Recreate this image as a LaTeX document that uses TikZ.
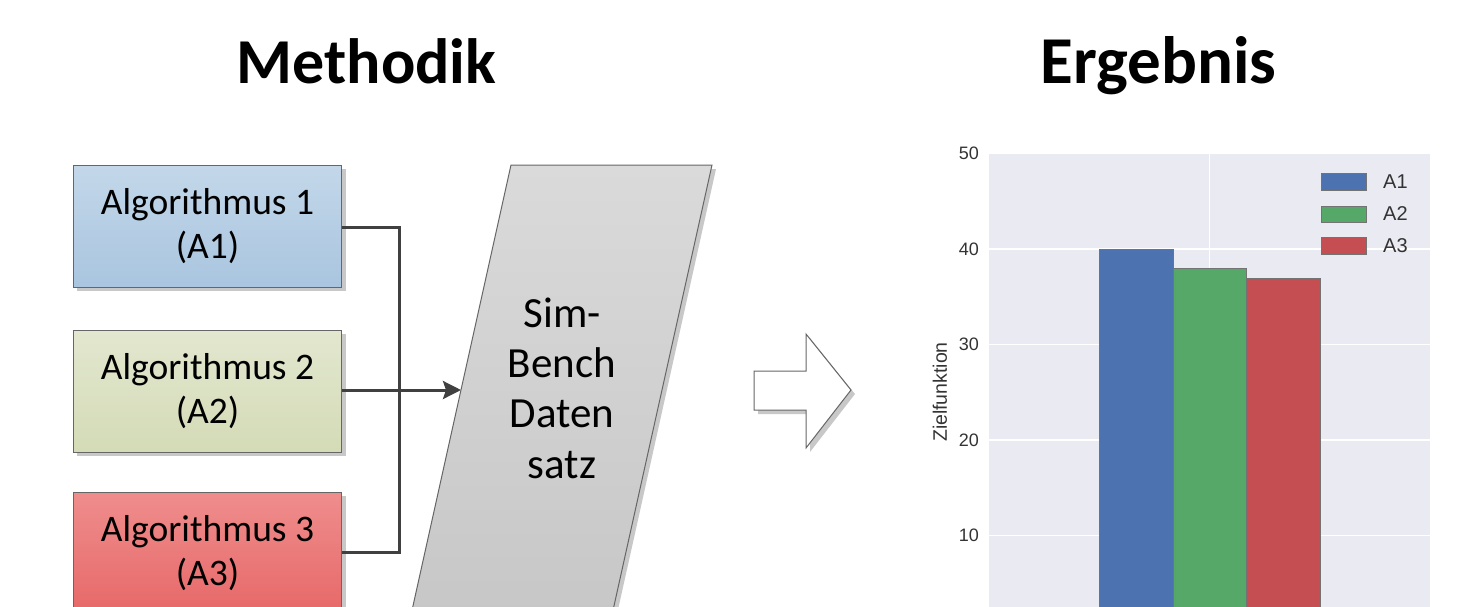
\documentclass[tikz,border=0pt]{standalone}
\usepackage{fontspec}
\setmainfont{Carlito}
\newfontfamily\chartfont{Liberation Sans}
\usetikzlibrary{arrows.meta}
\definecolor{lineC}{HTML}{404040}
\definecolor{shadowC}{HTML}{C8C8C8}
\definecolor{edgeC}{HTML}{666666}
\definecolor{aOneTop}{HTML}{C3D7E9}
\definecolor{aOneBot}{HTML}{A9C5DF}
\definecolor{aTwoTop}{HTML}{E2E7CF}
\definecolor{aTwoBot}{HTML}{D4DBB6}
\definecolor{aThrTop}{HTML}{EF8D8D}
\definecolor{aThrBot}{HTML}{E76868}
\definecolor{dsTop}{HTML}{DADADA}
\definecolor{dsBot}{HTML}{C6C6C6}
\definecolor{plotBg}{HTML}{EAEAF2}
\definecolor{barOne}{HTML}{4C72B0}
\definecolor{barTwo}{HTML}{55A868}
\definecolor{barThr}{HTML}{C44E52}
\definecolor{tickC}{HTML}{333333}
\tikzset{
  algbox/.style={draw=edgeC, line width=1pt, minimum width=268pt, minimum height=122pt,
    inner sep=0pt, align=center, font=\fontsize{37.5}{44}\selectfont, anchor=north west},
  titletext/.style={font=\bfseries\fontsize{64}{70}\selectfont, anchor=base},
  conn/.style={draw=lineC, line width=3pt},
  ticklab/.style={font=\chartfont\fontsize{18}{20}\selectfont, text=tickC, anchor=east, inner sep=0pt},
  legtext/.style={font=\chartfont\fontsize{20}{22}\selectfont, text=tickC, anchor=west, inner sep=0pt},
  bar/.style={draw=black!55, line width=0.6pt},
  gridl/.style={draw=white, line width=1.6pt}
}
\begin{document}
\begin{tikzpicture}[x=1pt,y=-1pt]
\useasboundingbox (0,0) rectangle (1470,606);
\clip (0,0) rectangle (1470,606);
% titles
\node[titletext] (tM) at (366.5,83) {Methodik};
\node[titletext, font=\bfseries\fontsize{67}{72}\selectfont] (tE) at (1158.5,83) {Ergebnis};
% box shadows
\fill[shadowC] (77,169) rectangle (346,291);
\fill[shadowC] (77,334) rectangle (346,456);
\fill[shadowC] (77,496) rectangle (346,618);
% boxes
\node[algbox, top color=aOneTop, bottom color=aOneBot] (a1) at (73,165) {\raisebox{-3pt}{\parbox{260pt}{\centering Algorithmus 1\\(A1)}}};
\node[algbox, top color=aTwoTop, bottom color=aTwoBot] (a2) at (73,330) {\raisebox{-3pt}{\parbox{260pt}{\centering Algorithmus 2\\(A2)}}};
\node[algbox, top color=aThrTop, bottom color=aThrBot] (a3) at (73,492) {\raisebox{-3pt}{\parbox{260pt}{\centering Algorithmus 3\\(A3)}}};
% data set parallelogram
\fill[shadowC] (515,169) -- (716,169) -- (610.4,644) -- (409.4,644) -- cycle;
\draw[draw=edgeC, line width=1pt, top color=dsTop, bottom color=dsBot]
  (511,165) -- (712,165) -- (606.4,640) -- (405.4,640) -- cycle;
\node[font=\fontsize{43}{50.3}\selectfont, align=center, anchor=base] (ds) at (562,478) {Sim-\\Bench\\Daten\\satz};
\coordinate (dsin) at (461,390);
% connectors
\coordinate (jx) at (399.5,390);
\draw[conn] (a1.east |- 0,227) -| (jx) |- (a3.east |- 0,552);
\draw[conn, -{Stealth[length=18pt,width=18pt,inset=3pt]}] (a2.east |- 0,390) -- (dsin);
% block arrow
\fill[shadowC] (758,375) -- (810,375) -- (810,338) -- (855,394) -- (810,452) -- (810,414) -- (758,414) -- cycle;
\draw[draw=edgeC, line width=1pt, fill=white]
  (754,371) -- (806,371) -- (806,334) -- (851,390) -- (806,448) -- (806,410) -- (754,410) -- cycle;
% chart
\fill[plotBg] (989,154) rectangle (1430,640);
\foreach \v in {10,20,30,40} {
  \draw[gridl] (989,{631-9.55*\v}) -- (1430,{631-9.55*\v});
}
\draw[gridl] (1209.5,154) -- (1209.5,640);
\foreach \v in {10,20,30,40,50} {
  \node[ticklab] at (979,{631-9.55*\v}) {\v};
}
\node[font=\chartfont\fontsize{19.5}{22}\selectfont, text=tickC, rotate=90, inner sep=0pt] (ylab) at (940,392) {Zielfunktion};
\draw[bar, fill=barOne] (1099,249) rectangle (1173,640);
\draw[bar, fill=barTwo] (1173,268) rectangle (1246,640);
\draw[bar, fill=barThr] (1246,278) rectangle (1320,640);
% legend
\draw[bar, fill=barOne] (1321,173) rectangle (1366,190);
\draw[bar, fill=barTwo] (1321,206) rectangle (1366,222);
\draw[bar, fill=barThr] (1321,237) rectangle (1366,254);
\node[legtext] (l1) at (1383,181.5) {A1};
\node[legtext] (l2) at (1383,214) {A2};
\node[legtext] (l3) at (1383,245.5) {A3};
\end{tikzpicture}
\end{document}
